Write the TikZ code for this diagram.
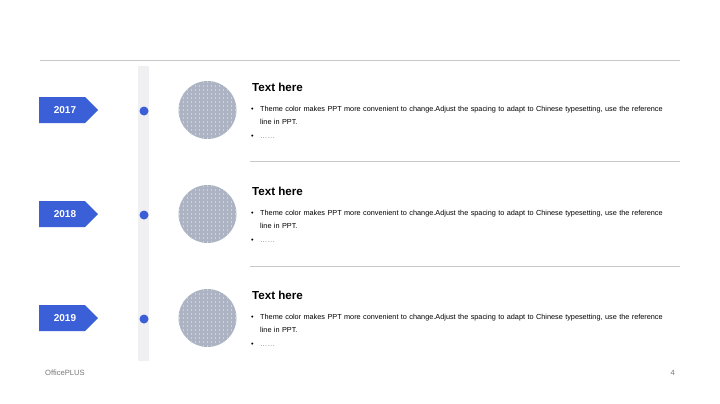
\documentclass[tikz,border=0pt]{standalone}
\usepackage{fontspec}
\setmainfont{Liberation Sans}
\definecolor{tagblue}{RGB}{59,95,214}
\definecolor{linegray}{RGB}{200,200,200}
\definecolor{bargray}{RGB}{240,240,242}
\definecolor{picgray}{RGB}{172,179,194}
\definecolor{footgray}{RGB}{120,120,120}
\tikzset{
  tag/.style={fill=tagblue, draw=none},
  tagtext/.style={text=white, font=\fontsize{10}{12}\selectfont\bfseries, inner sep=0pt},
  dotmark/.style={circle, fill=tagblue, minimum size=9pt, inner sep=0pt},
  pic/.style={circle, minimum size=58pt, inner sep=0pt, fill=picgray},
  title/.style={anchor=west, inner sep=0pt, font=\fontsize{11.6}{13}\selectfont\bfseries},
  body/.style={anchor=north west, inner sep=0pt, text width=425pt, align=left, font=\fontsize{7.3}{13.5}\selectfont},
  sep/.style={draw=linegray, line width=0.8pt},
}
\begin{document}
\begin{tikzpicture}[x=1pt,y=-1pt]
\useasboundingbox (0,0) rectangle (720,404);
\fill[white] (0,0) rectangle (720,404);
\draw[linegray, line width=1pt] (40,61) -- (680,61);
\fill[bargray] (138,66) rectangle (149,361);
\foreach \yy/\yr/\n in {110/2017/a,214/2018/b,318/2019/c}{
  \fill[tag] (39,\yy-13) -- (85,\yy-13) -- (98,\yy) -- (85,\yy+13) -- (39,\yy+13) -- cycle;
  \node[tagtext] (y\n) at (65,\yy) {\yr};
  \node[dotmark] (d\n) at (144,\yy+1) {};
  \node[pic] (p\n) at (207.5,\yy) {};
  \begin{scope}
    \clip (207.5,\yy) circle (28.5);
    \foreach \i in {-7,...,7}{
      \foreach \j in {-7,...,7}{
        \fill[white!80!picgray] (207.5+4*\i,\yy+4*\j) circle (0.55);
      }
    }
  \end{scope}
  \node[title] (t\n) at (252,\yy-23) {Text here};
  \node[body] (b\n) at (251,\yy-4) {%
    \makebox[9pt][l]{\textbullet}Theme color makes PPT more convenient to change.Adjust the spacing to adapt to Chinese typesetting, use the reference\\
    \hspace*{9pt}line in PPT.\\
    \makebox[9pt][l]{\textbullet}\textcolor{footgray}{……}};
}
\draw[sep] (250,161.5) -- (680,161.5);
\draw[sep] (250,266) -- (680,266);
\node[anchor=west, inner sep=0pt, text=footgray, font=\fontsize{7.6}{9}\selectfont] (foot) at (45,373) {OfficePLUS};
\node[anchor=east, inner sep=0pt, text=footgray, font=\fontsize{7.6}{9}\selectfont] (pg) at (675,373) {4};
\end{tikzpicture}
\end{document}
